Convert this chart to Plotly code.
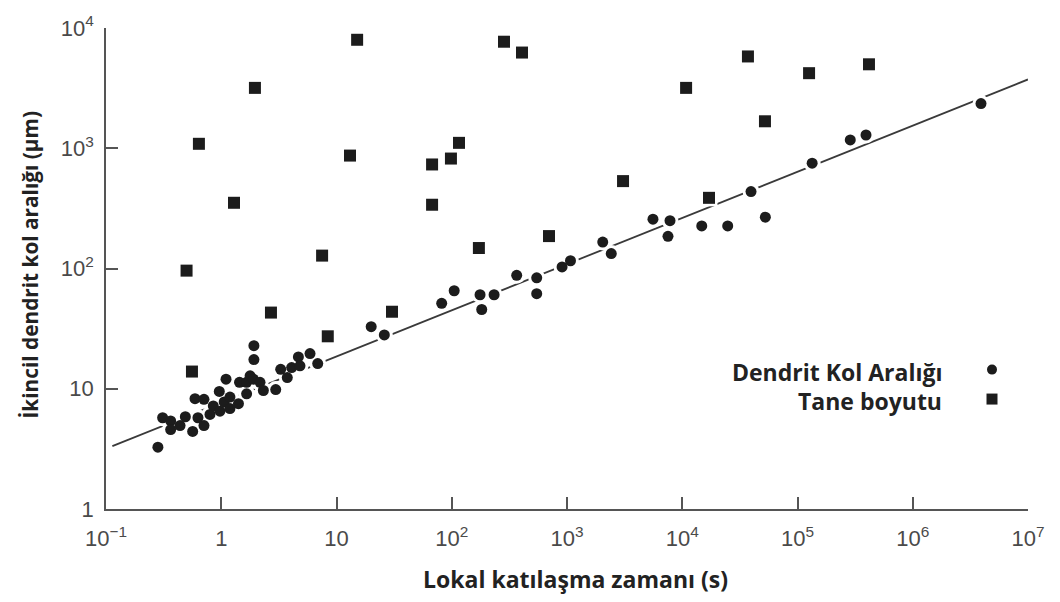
import plotly.graph_objects as go

# Dendrite arm spacing (circles): local solidification time (s) vs spacing (µm)
das_time = [0.282, 0.310, 0.364, 0.364, 0.439, 0.488, 0.565, 0.592, 0.628, 0.708,
            0.708, 0.798, 0.853, 0.962, 0.975, 1.06, 1.10, 1.19, 1.19, 1.41,
            1.44, 1.66, 1.66, 1.78, 1.90, 1.92, 1.92, 2.17, 2.32, 2.97,
            3.28, 3.74, 4.08, 4.67, 4.82, 5.89, 6.87, 20.0, 26.0, 81.8,
            105, 176, 182, 233, 366, 546, 546, 906, 1072, 2042,
            2421, 5570, 7830, 7520, 14760, 24800, 39500, 52600, 134000, 287000,
            393000, 3.91e6]
das_size = [3.27, 5.74, 5.40, 4.58, 4.94, 5.85, 4.42, 8.26, 5.74, 4.94,
            8.16, 6.11, 7.20, 9.49, 6.51, 7.76, 12.0, 8.52, 6.84, 7.52,
            11.3, 9.07, 11.3, 12.8, 12.0, 22.8, 17.5, 11.3, 9.67, 9.85,
            14.5, 12.4, 15.0, 18.4, 15.5, 19.6, 16.2, 32.8, 28.0, 51.3,
            65.3, 60.5, 45.6, 60.5, 87.7, 83.6, 61.7, 103, 116, 166,
            133, 257, 250, 185, 226, 226, 436, 267, 752, 1173,
            1289, 2352]

# Grain size (squares)
grain_time = [0.50, 0.557, 0.64, 1.29, 1.96, 2.70, 7.5, 8.4, 13.1, 15.1,
              30.3, 67.5, 98.4, 115.6, 67.5, 172, 698, 284, 407, 3064,
              10800, 17060, 37150, 52200, 126000, 417000]
grain_size = [96, 13.9, 1089, 352, 3177, 43, 128, 27.3, 869, 7980,
              43.7, 733, 821, 1109, 339, 148, 186, 7690, 6250, 533,
              3177, 387, 5800, 1676, 4210, 4990]

# Trend line end points
fit_time = [0.1135, 1.0e7]
fit_size = [3.33, 3733]

x_tickvals = [0.1, 1, 10, 100, 1e3, 1e4, 1e5, 1e6, 1e7]
x_ticktext = ["10<sup>\u22121</sup>", "1", "10", "10<sup>2</sup>", "10<sup>3</sup>",
              "10<sup>4</sup>", "10<sup>5</sup>", "10<sup>6</sup>", "10<sup>7</sup>"]
y_tickvals = [1, 10, 100, 1e3, 1e4]
y_ticktext = ["1", "10", "10<sup>2</sup>", "10<sup>3</sup>", "10<sup>4</sup>"]

INK = "#1c1c1c"
AX = "#555555"

fig = go.Figure()
fig.add_trace(go.Scatter(x=fit_time, y=fit_size, mode="lines",
                         line=dict(color="#3a3a3a", width=1.8),
                         showlegend=False, hoverinfo="skip"))
# white halos that break the trend line around markers
fig.add_trace(go.Scatter(x=das_time, y=das_size, mode="markers",
                         marker=dict(symbol="circle", size=17, color="white", line=dict(width=0)),
                         showlegend=False, hoverinfo="skip"))
fig.add_trace(go.Scatter(x=grain_time, y=grain_size, mode="markers",
                         marker=dict(symbol="square", size=17, color="white", line=dict(width=0)),
                         showlegend=False, hoverinfo="skip"))
fig.add_trace(go.Scatter(x=das_time, y=das_size, mode="markers", name="Dendrit Kol Aralığı",
                         marker=dict(symbol="circle", size=11, color=INK, line=dict(width=0)),
                         showlegend=False))
fig.add_trace(go.Scatter(x=grain_time, y=grain_size, mode="markers", name="Tane boyutu",
                         marker=dict(symbol="square", size=12, color=INK, line=dict(width=0)),
                         showlegend=False))

tick_font = dict(family="Liberation Sans, Arial, sans-serif", size=22, color="#4a4a4a")
x_title_font = dict(family="Open Sans, Lato, sans-serif", size=23, color="#222222")
y_title_font = dict(family="Open Sans, Lato, sans-serif", size=20.8, color="#222222")
leg_font = dict(family="Open Sans, Lato, sans-serif", size=23, color="#222222")

fig.update_xaxes(type="log", range=[-1, 7], tickvals=x_tickvals, ticktext=x_ticktext,
                 showgrid=False, zeroline=False, showline=True, linecolor=AX, linewidth=1.6,
                 ticks="inside", ticklen=12, tickwidth=1.5, tickcolor=AX,
                 tickfont=tick_font, ticklabelstandoff=9)
fig.update_yaxes(type="log", range=[0, 4], tickvals=y_tickvals, ticktext=y_ticktext,
                 showgrid=False, zeroline=False, showline=True, linecolor=AX, linewidth=1.6,
                 ticks="inside", ticklen=12, tickwidth=1.5, tickcolor=AX,
                 tickfont=tick_font, ticklabelstandoff=6)

annotations = [
    dict(text="<b>Lokal katılaşma zamanı (s)</b>", xref="paper", yref="paper",
         x=(575 - 106) / 922, y=-(580 - 509) / 490, xanchor="center", yanchor="middle",
         showarrow=False, font=x_title_font),
    dict(text="<b>İkincil dendrit kol aralığı (µm)</b>", xref="paper", yref="paper",
         x=-(106 - 30) / 922, y=(509 - 260) / 490, xanchor="center", yanchor="middle",
         textangle=-90, showarrow=False, font=y_title_font),
    dict(text="<b>Dendrit Kol Aralığı</b>", xref="paper", yref="paper",
         x=(944 - 106) / 922, y=(509 - 369) / 490, xanchor="right", yanchor="middle",
         showarrow=False, font=leg_font),
    dict(text="<b>Tane boyutu</b>", xref="paper", yref="paper",
         x=(944 - 106) / 922, y=(509 - 399) / 490, xanchor="right", yanchor="middle",
         showarrow=False, font=leg_font),
]

shapes = [
    dict(type="circle", xref="paper", yref="paper", xsizemode="pixel", ysizemode="pixel",
         xanchor=(992 - 106) / 922, yanchor=(509 - 367) / 490, x0=-5, x1=5, y0=-5, y1=5,
         fillcolor=INK, line=dict(width=0)),
    dict(type="rect", xref="paper", yref="paper", xsizemode="pixel", ysizemode="pixel",
         xanchor=(992 - 106) / 922, yanchor=(509 - 397) / 490, x0=-5.5, x1=5.5, y0=-5.5, y1=5.5,
         fillcolor=INK, line=dict(width=0)),
]

fig.update_layout(width=1060, height=602, margin=dict(l=106, r=32, t=19, b=93),
                  paper_bgcolor="white", plot_bgcolor="white",
                  annotations=annotations, shapes=shapes, showlegend=False)

fig.write_html("out.html")
